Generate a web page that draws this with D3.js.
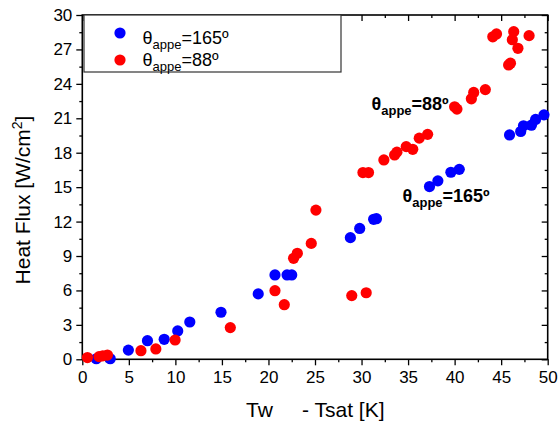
<!DOCTYPE html>
<html>
<head>
<script src="https://cdnjs.cloudflare.com/ajax/libs/d3/7.8.5/d3.min.js"></script>
<style>
  body { margin: 0; background: #fff; }
  text { font-family: Arial, "Liberation Sans", sans-serif; }
</style>
</head>
<body>
<script>
// data: [Tw - Tsat (K), heat flux (W/cm2)]
var series165 = [
  [1.5, 0.05], [3.0, 0.05], [4.95, 0.8], [7.0, 1.62], [8.8, 1.74], [10.25, 2.47],
  [11.55, 3.25], [14.9, 4.1], [18.9, 5.7], [20.7, 7.35], [22.0, 7.35], [22.5, 7.35],
  [28.8, 10.6], [29.8, 11.4], [31.3, 12.2], [31.6, 12.25],
  [37.3, 15.05], [38.2, 15.55], [39.6, 16.3], [40.5, 16.55],
  [45.9, 19.55], [47.1, 19.85], [47.4, 20.35], [48.25, 20.4], [48.7, 20.9], [49.6, 21.3]
];
var series88 = [
  [0.55, 0.15], [1.8, 0.23], [2.2, 0.3], [2.7, 0.37], [6.3, 0.75], [7.9, 0.9],
  [9.97, 1.68], [15.9, 2.76], [20.7, 5.98], [21.7, 4.76], [22.7, 8.8], [23.1, 9.24],
  [24.6, 10.1], [25.1, 13.0], [28.95, 5.55], [30.5, 5.8],
  [30.15, 16.27], [30.75, 16.27], [32.4, 17.37], [33.55, 17.8], [33.8, 18.05],
  [34.8, 18.53], [35.5, 18.3], [36.2, 19.27], [37.1, 19.6],
  [40.0, 22.0], [40.25, 21.8], [41.8, 22.7], [42.05, 23.25], [43.3, 23.5],
  [44.1, 28.1], [44.5, 28.35], [45.8, 25.65], [46.0, 25.8], [46.2, 27.85],
  [46.35, 28.55], [46.8, 27.1], [48.0, 28.2]
];
var xTicks = [0, 5, 10, 15, 20, 25, 30, 35, 40, 45, 50];
var xMinor = [2.5, 7.5, 12.5, 17.5, 22.5, 27.5, 32.5, 37.5, 42.5, 47.5];
var yTicks = [0, 3, 6, 9, 12, 15, 18, 21, 24, 27, 30];
var yMinor = [1.5, 4.5, 7.5, 10.5, 13.5, 16.5, 19.5, 22.5, 25.5, 28.5];

var W = 558, H = 421;
var m = {left: 82.3, top: 15, right: 10.3, bottom: 61.7};
var w = W - m.left - m.right, h = H - m.top - m.bottom;

var svg = d3.select("body").append("svg")
  .attr("width", W).attr("height", H);

var g = svg.append("g").attr("transform", "translate(" + m.left + "," + m.top + ")");

var x = d3.scaleLinear().domain([0, 50]).range([0, w]);
var y = d3.scaleLinear().domain([0, 30]).range([h, 0]);

function styleAxis(sel, showText) {
  sel.select(".domain").remove();
  sel.selectAll("line").attr("stroke", "#000").attr("stroke-width", 1.3);
  sel.selectAll("text").attr("fill", "#000").style("font-size", "17px");
  if (!showText) sel.selectAll("text").remove();
}

// bottom
g.append("g").attr("transform", "translate(0," + h + ")")
  .call(d3.axisBottom(x).tickValues(xTicks).tickSize(6).tickPadding(6))
  .call(styleAxis, true);
g.append("g").attr("transform", "translate(0," + h + ")")
  .call(d3.axisBottom(x).tickValues(xMinor).tickSize(3).tickFormat(""))
  .call(styleAxis, false);
// left
g.append("g")
  .call(d3.axisLeft(y).tickValues(yTicks).tickSize(6).tickPadding(4))
  .call(styleAxis, true);
g.append("g")
  .call(d3.axisLeft(y).tickValues(yMinor).tickSize(3).tickFormat(""))
  .call(styleAxis, false);
// top (inward)
g.append("g")
  .call(d3.axisTop(x).tickValues(xTicks).tickSizeInner(-6).tickSizeOuter(0).tickFormat(""))
  .call(styleAxis, false);
g.append("g")
  .call(d3.axisTop(x).tickValues(xMinor).tickSizeInner(-3).tickSizeOuter(0).tickFormat(""))
  .call(styleAxis, false);
// right (inward)
g.append("g").attr("transform", "translate(" + w + ",0)")
  .call(d3.axisRight(y).tickValues(yTicks).tickSizeInner(-6).tickSizeOuter(0).tickFormat(""))
  .call(styleAxis, false);
g.append("g").attr("transform", "translate(" + w + ",0)")
  .call(d3.axisRight(y).tickValues(yMinor).tickSizeInner(-3).tickSizeOuter(0).tickFormat(""))
  .call(styleAxis, false);

// frame
g.append("rect").attr("width", w).attr("height", h)
  .attr("fill", "none").attr("stroke", "#000").attr("stroke-width", 1.6);

// points
g.selectAll(".p165").data(series165).enter().append("circle")
  .attr("cx", function(d) { return x(d[0]); })
  .attr("cy", function(d) { return y(d[1]); })
  .attr("r", 5.6).attr("fill", "#0000ff");
g.selectAll(".p88").data(series88).enter().append("circle")
  .attr("cx", function(d) { return x(d[0]); })
  .attr("cy", function(d) { return y(d[1]); })
  .attr("r", 5.6).attr("fill", "#ff0000");

// theta label helper
function thetaText(parent, px, py, val, size, sub, bold) {
  var t = parent.append("text").attr("x", px).attr("y", py)
    .style("font-size", size + "px").attr("fill", "#000")
    .style("font-weight", bold ? "bold" : "normal");
  t.append("tspan").text("θ");
  t.append("tspan").attr("dy", size * 0.3).style("font-size", sub + "px").text("appe");
  t.append("tspan").attr("dy", -size * 0.3).text("=" + val + "º");
  return t;
}

// legend
svg.append("rect").attr("x", 84).attr("y", 15).attr("width", 257).attr("height", 57)
  .attr("fill", "#fff").attr("stroke", "#333").attr("stroke-width", 1.2);
svg.append("circle").attr("cx", 120).attr("cy", 33).attr("r", 5.6).attr("fill", "#0000ff");
svg.append("circle").attr("cx", 120).attr("cy", 60).attr("r", 5.6).attr("fill", "#ff0000");
thetaText(svg, 142.5, 44, "165", 18, 13, false);
thetaText(svg, 142.5, 66, "88", 18, 13, false);

// annotations
thetaText(svg, 371.5, 109.5, "88", 18, 13, true);
thetaText(svg, 402.5, 201.5, "165", 18, 13, true);

// axis titles
svg.append("text").attr("x", 246).attr("y", 416.5)
  .style("font-size", "21px").attr("fill", "#000")
  .attr("xml:space", "preserve")
  .text("Tw     - Tsat [K]");

var yt = svg.append("text")
  .attr("transform", "translate(30,200) rotate(-90)")
  .attr("text-anchor", "middle")
  .style("font-size", "21px").attr("fill", "#000");
yt.append("tspan").text("Heat Flux [W/cm");
yt.append("tspan").attr("dy", -8).style("font-size", "14px").text("2");
yt.append("tspan").attr("dy", 8).text("]");
</script>
</body>
</html>
